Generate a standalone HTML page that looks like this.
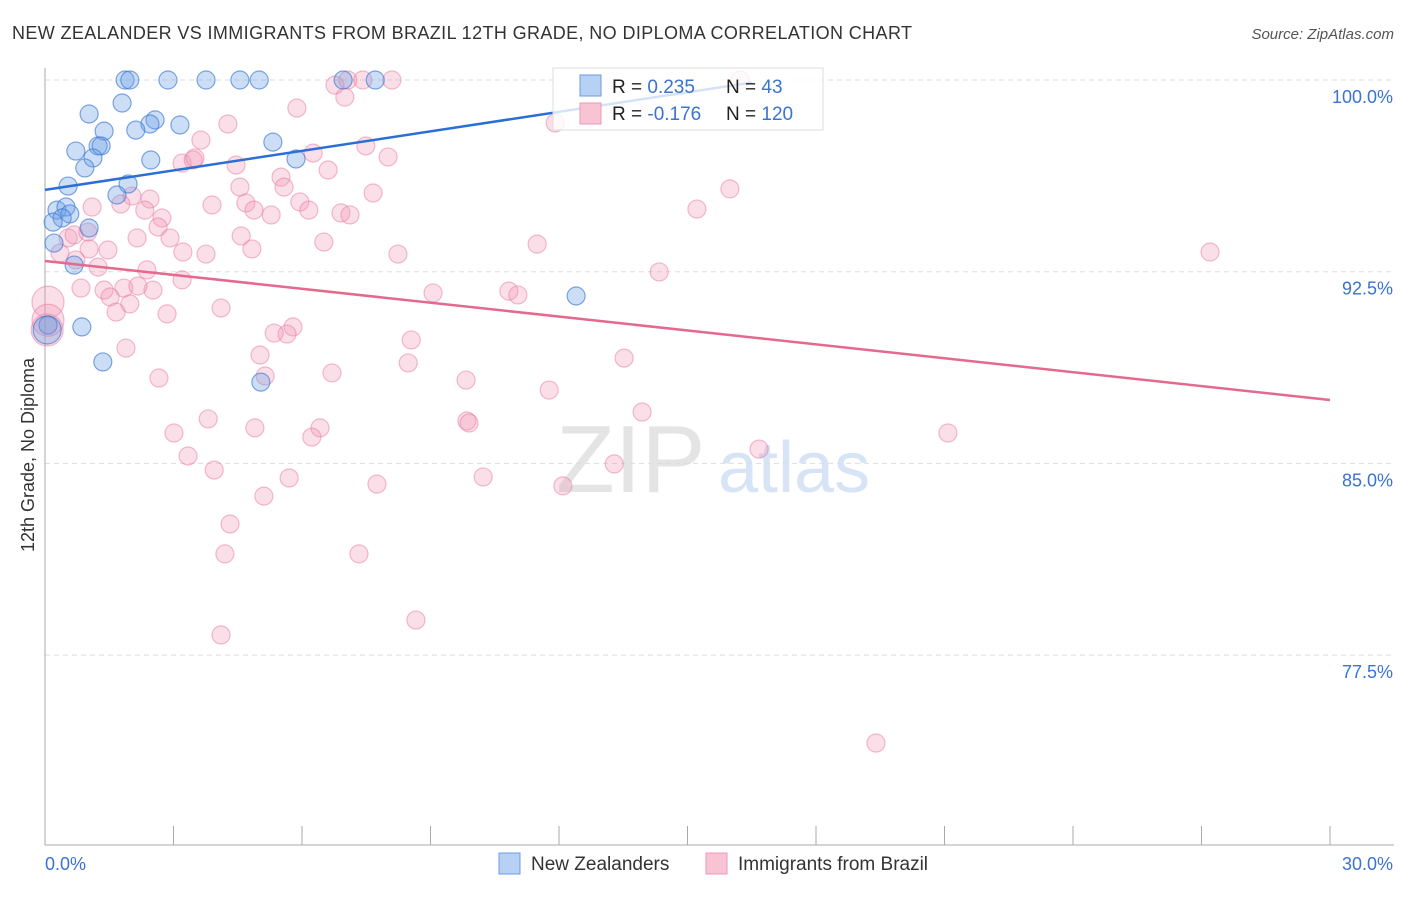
<!DOCTYPE html>
<html><head><meta charset="utf-8"><style>
body{margin:0;background:#fff;font-family:"Liberation Sans",sans-serif;}
svg text{font-family:"Liberation Sans",sans-serif;}
</style></head><body>
<svg id="chart" width="1406" height="892">
<text x="12" y="39" font-size="18" fill="#333" textLength="900">NEW ZEALANDER VS IMMIGRANTS FROM BRAZIL 12TH GRADE, NO DIPLOMA CORRELATION CHART</text>
<text x="1394" y="39" font-size="15" fill="#555" font-style="italic" text-anchor="end">Source: ZipAtlas.com</text>
<text x="34" y="455" font-size="18" fill="#333" transform="rotate(-90 34 455)" text-anchor="middle">12th Grade, No Diploma</text>
<text x="556" y="492" font-size="96" fill="#e4e4e4" font-family="Liberation Serif">ZIP</text>
<text x="718" y="492" font-size="72" fill="#d6e4f6">atlas</text>
<g id="grid"></g><g id="axes"></g><g id="pts"></g><g id="lines"></g>
<g>
<rect x="553" y="68" width="270" height="62" fill="rgba(255,255,255,0.8)" stroke="#ddd"/>
<rect x="580" y="75" width="21" height="21" fill="#b7d1f5" stroke="#6a9be0"/>
<rect x="580" y="103" width="21" height="21" fill="#f8c3d3" stroke="#ec98b6"/>
<text x="612" y="93" font-size="19" fill="#222">R = <tspan fill="#3a73d0"> 0.235</tspan></text>
<text x="726" y="93" font-size="19" fill="#222">N = <tspan fill="#3a73d0">  43</tspan></text>
<text x="612" y="120" font-size="19" fill="#222">R = <tspan fill="#3a73d0">-0.176</tspan></text>
<text x="726" y="120" font-size="19" fill="#222">N = <tspan fill="#3a73d0">120</tspan></text>
</g>
<g>
<rect x="499" y="853" width="21" height="21" fill="#b7d1f5" stroke="#6a9be0"/>
<text x="531" y="870" font-size="19" fill="#333">New Zealanders</text>
<rect x="706" y="853" width="21" height="21" fill="#f8c3d3" stroke="#ec98b6"/>
<text x="738" y="870" font-size="19" fill="#333">Immigrants from Brazil</text>
</g>
</svg>
<script>
const yTicks=[100,92.5,85,77.5];
const yTickLabels=["100.0%","92.5%","85.0%","77.5%"];
const xTickLabels=["0.0%","30.0%"];
const blueX=[1.87,1.98,2.87,3.76,4.55,5.0,6.96,7.71,1.03,1.80,2.57,2.45,3.15,1.38,2.12,5.32,0.72,1.24,1.31,1.12,2.47,5.86,0.93,0.54,1.94,1.68,0.28,0.49,0.58,0.40,0.19,1.03,0.21,0.68,0.86,0.07,1.35,5.04,12.4,0.05];
const blueY=[100,100,100,100,100,100,100,100,98.67,99.10,98.44,98.28,98.24,98.0,98.04,97.57,97.22,97.42,97.42,96.95,96.87,96.91,96.56,95.85,95.93,95.5,94.91,95.03,94.76,94.60,94.44,94.21,93.62,92.76,90.34,90.41,88.97,88.18,91.55,90.22];
const pinkX=[6.77,7.07,8.10,7.42,7.00,5.88,4.27,3.64,3.20,3.46,3.50,4.46,6.26,7.49,8.01,6.61,5.51,5.58,4.55,3.90,4.69,4.88,5.28,5.95,6.16,6.91,7.12,7.66,2.03,2.45,1.77,2.33,2.73,1.10,2.64,4.58,6.51,2.92,2.15,0.54,0.68,1.0,1.47,3.22,3.76,4.83,8.24,11.49,1.03,0.35,0.72,1.24,2.38,3.20,0.84,1.38,1.84,2.52,1.52,2.17,1.66,1.98,2.85,4.11,9.06,10.83,11.04,5.79,5.65,5.35,1.89,5.02,8.55,8.48,6.70,5.14,2.66,9.83,11.77,13.52,14.34,15.22,15.99,27.2,11.91,16.23,13.94,3.81,9.85,9.9,6.42,6.23,4.90,3.01,3.34,3.95,5.70,5.11,7.75,10.23,12.09,13.29,16.67,21.08,4.32,4.20,7.33,8.66,4.11,19.4,0.07,0.05,0.07];
const pinkY=[99.80,100,100,100,99.33,98.90,98.28,97.65,96.75,96.87,96.95,96.67,97.14,97.42,96.99,96.48,96.2,95.81,95.81,95.11,95.19,94.91,94.72,95.23,94.91,94.80,94.72,95.58,95.46,95.34,95.15,94.91,94.60,95.03,94.25,93.90,93.66,93.82,93.82,93.82,93.94,94.05,93.35,93.27,93.19,93.39,93.19,93.58,93.39,93.23,92.96,92.68,92.57,92.18,91.86,91.78,91.86,91.78,91.51,91.94,90.92,91.24,90.85,91.08,91.67,91.74,91.59,90.34,90.06,90.10,89.51,89.24,89.83,88.93,88.54,88.42,88.34,88.26,87.87,89.12,92.49,94.95,95.74,93.27,98.32,100,87.01,86.74,86.66,86.58,86.39,86.03,86.39,86.19,85.29,84.74,84.43,83.72,84.19,84.47,84.12,84.98,85.56,86.19,82.63,81.46,81.46,78.87,78.29,74.06,91.31,90.22,90.6];
const blueTrend=[[0,95.70],[16.5,99.90]];
const pinkTrend=[[0,92.92],[30,87.48]];
const X=v=>45+v/30*1285, Y=v=>80+(100-v)/7.5*191.7;
const NS="http://www.w3.org/2000/svg";
function mk(tag,attrs,parent){const e=document.createElementNS(NS,tag);for(const k in attrs)e.setAttribute(k,attrs[k]);document.getElementById(parent).appendChild(e);return e;}
yTicks.forEach((t,i)=>{
 const l=mk('line',{x1:45,x2:1394,y1:Y(t),y2:Y(t),stroke:'#ddd','stroke-dasharray':'5,4'},'grid');
 
 
 const tx=mk('text',{x:1393,y:Y(t)+23,'font-size':18,fill:'#3a73d0','text-anchor':'end'},'axes');tx.textContent=yTickLabels[i];
 
 
});
const ax=mk('line',{x1:45,x2:45,y1:68,y2:845,stroke:'#aaa'},'axes');


const bx=mk('line',{x1:45,x2:1394,y1:845,y2:845,stroke:'#aaa'},'axes');


for(let i=0;i<=10;i++){const t=mk('line',{x1:X(i*3),x2:X(i*3),y1:826,y2:845,stroke:'#aaa'},'axes');
 
 }
xTickLabels.forEach((s,i)=>{const t=mk('text',{x:i?1393:45,y:870,'font-size':18,fill:'#3a73d0','text-anchor':i?'end':'start'},'axes');t.textContent=s;
 
 });
pinkX.forEach((v,i)=>{const big=i>=pinkX.length-3;const c=mk('circle',{cx:X(v),cy:Y(pinkY[i]),r:big?16:9,fill:'rgba(242,150,180,0.3)',stroke:'rgba(232,120,160,0.5)','stroke-width':1.2},'pts');
 
 });
blueX.forEach((v,i)=>{const big=i==blueX.length-1;const c=mk('circle',{cx:X(v),cy:Y(blueY[i]),r:big?14:9,fill:'rgba(110,160,230,0.35)',stroke:'rgba(60,120,210,0.65)','stroke-width':1.2},'pts');
 
 });
const bl=mk('line',{x1:X(blueTrend[0][0]),y1:Y(blueTrend[0][1]),x2:X(blueTrend[1][0]),y2:Y(blueTrend[1][1]),stroke:'#2a6fd6','stroke-width':2.5},'lines');


const pl=mk('line',{x1:X(pinkTrend[0][0]),y1:Y(pinkTrend[0][1]),x2:X(pinkTrend[1][0]),y2:Y(pinkTrend[1][1]),stroke:'#e4698f','stroke-width':2.5},'lines');


</script>
</body></html>
